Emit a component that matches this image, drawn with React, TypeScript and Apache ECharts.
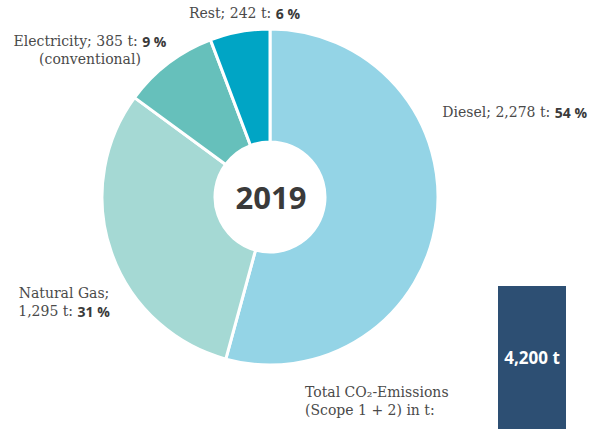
import React, { useEffect, useRef } from "react";
import * as echarts from "echarts";

const categories = ["Diesel", "Natural Gas", "Electricity", "Rest"];
const tonnes = [2278, 1295, 385, 242];
const shares = [54, 31, 9, 6];
const colors = ["#94d4e6", "#a5d9d4", "#66c0bb", "#00a5c5"];
const yearLabel = "2019";
const totalValue = 4200;

const SERIF = "'DejaVu Serif', 'Liberation Serif', serif";
const SANS = "'Open Sans', 'Noto Sans', sans-serif";

const fmt = (v: number) => v.toLocaleString("en-US");

// label anchor positions per slice (layout only)
const labelPos = [
  { x: 587, y: 112, align: "right" },
  { x: 64, y: 302, align: "center" },
  { x: 90, y: 50, align: "center" },
  { x: 300, y: 13, align: "right" },
];

export default function App() {
  const ref = useRef<HTMLDivElement>(null);
  useEffect(() => {
    if (!ref.current) return;
    const chart = echarts.init(ref.current, undefined, { renderer: "svg" });
    const labelText = (i: number) => {
      const name = categories[i];
      const t = fmt(tonnes[i]);
      const p = `{b|${shares[i]} %}`;
      if (name === "Natural Gas") return `{n|${name};}\n{n|${t} t: }${p}`;
      if (name === "Electricity") return `{n|${name}; ${t} t: }${p}\n{n|(conventional)}`;
      return `{n|${name}; ${t} t: }${p}`;
    };
    chart.setOption({
      animation: false,
      backgroundColor: "#ffffff",
      grid: { left: 498, width: 68, top: 286, bottom: 0 },
      xAxis: { type: "category", data: ["Total"], show: false },
      yAxis: { type: "value", min: 0, max: totalValue, show: false },
      series: [
        {
          type: "pie",
          center: [270, 197],
          radius: [55, 168],
          startAngle: 90,
          clockwise: true,
          avoidLabelOverlap: false,
          itemStyle: { borderColor: "#ffffff", borderWidth: 3 },
          emphasis: { disabled: true },
          data: categories.map((c, i) => ({
            name: c,
            value: tonnes[i],
            itemStyle: { color: colors[i] },
          })),
          label: {
            show: true,
            position: "outside",
            formatter: (p: any) => labelText(p.dataIndex),
            lineHeight: 18,
            rich: {
              n: { fontFamily: SERIF, fontSize: 14, color: "#4a4a4a", lineHeight: 18 },
              b: { fontFamily: SANS, fontSize: 14, fontWeight: "bold", color: "#3a3a3a", lineHeight: 18 },
            },
          },
          labelLine: { show: false },
          labelLayout: (params: any) => {
            const lp = labelPos[params.dataIndex];
            return { x: lp.x, y: lp.y, align: lp.align, verticalAlign: "middle" };
          },
        },
        {
          type: "bar",
          data: [totalValue],
          barWidth: 68,
          itemStyle: { color: "#2d4f73" },
          label: {
            show: true,
            position: "inside",
            formatter: (p: any) => `${fmt(p.value)} t`,
            color: "#ffffff",
            fontFamily: SANS,
            fontWeight: "bold",
            fontSize: 17,
          },
          emphasis: { disabled: true },
        },
      ],
      graphic: [
        {
          type: "circle",
          shape: { cx: 270, cy: 197, r: 55 },
          style: { fill: "#ffffff" },
          silent: true,
        },
        {
          type: "text",
          x: 271,
          y: 197,
          style: {
            text: yearLabel,
            fontFamily: SANS,
            fontWeight: "bold",
            fontSize: 31,
            fill: "#3a3a3a",
            align: "center",
            verticalAlign: "middle",
          },
        },
        {
          type: "text",
          x: 305,
          y: 401,
          style: {
            text: "Total CO₂-Emissions\n(Scope 1 + 2) in t:",
            fontFamily: SERIF,
            fontSize: 14,
            lineHeight: 18,
            fill: "#4a4a4a",
            align: "left",
            verticalAlign: "middle",
          },
        },
      ],
    });
    return () => chart.dispose();
  }, []);
  return (
    <div
      ref={ref}
      style={{ position: "fixed", left: 0, top: 0, width: 597, height: 429 }}
    />
  );
}
